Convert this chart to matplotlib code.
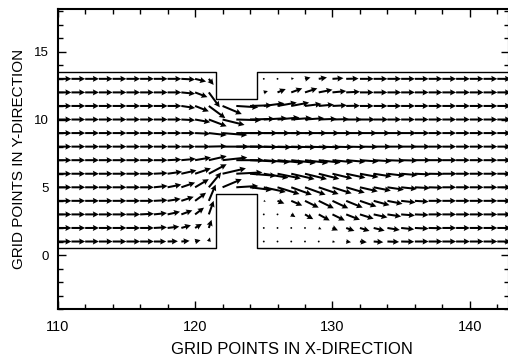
import numpy as np
import matplotlib
matplotlib.use('Agg')
import matplotlib.pyplot as plt
from matplotlib.ticker import MultipleLocator

plt.rcParams['font.family'] = ['Liberation Sans', 'DejaVu Sans']

# grid points
x_grid = list(range(110, 143))   # 33 columns
y_grid = list(range(1, 14))      # 13 rows
nan = np.nan

# velocity, one list per row (y = 1 .. 13), columns x = 110 .. 142
u1 = [1,1,1,1,1,1,1, .9,.75,.6,.4,.08, nan,nan,nan, .02,.02,.03,.05,.1,.2,.35,.5,.7,.85,.95, 1,1,1,1,1,1,1]
v1 = [0,0,0,0,0,0,0, 0,.02,.05,.1,.3, nan,nan,nan, 0,0,0,0,-.02,-.04,-.05,-.05,-.05,-.03,-.02, 0,0,0,0,0,0,0]
u2 = [1,1,1,1,1,1,1, .95,.85,.7,.5,.2, nan,nan,nan, .02,.03,.05,.1,.2,.4,.6,.7,.8,.9,.95, 1,1,1,1,1,1,1]
v2 = [0,0,0,0,0,0,0, .05,.1,.2,.3,.6, nan,nan,nan, 0,0,-.02,-.05,-.1,-.18,-.22,-.22,-.2,-.15,-.1, -.05,-.02,0,0,0,0,0]
u3 = [1,1,1,1,1,1,1, .95,.9,.8,.65,.35, nan,nan,nan, .05,.1,.3,.6,.8,.9,1,1,1,1,1, 1,1,1,1,1,1,1]
v3 = [0,0,0,0,0,0,.05, .1,.2,.3,.5,1.0, nan,nan,nan, 0,-.05,-.2,-.35,-.45,-.45,-.4,-.32,-.22,-.15,-.08, -.04,0,0,0,0,0,0]
u4 = [1,1,1,1,1,1,1, 1,.95,.9,.8,.5, nan,nan,nan, .15,.5,.8,1.0,1.1,1.15,1.2,1.2,1.15,1.1,1.05, 1,1,1,1,1,1,1]
v4 = [0,0,0,0,0,0,0, .05,.15,.3,.6,1.2, nan,nan,nan, -.05,-.2,-.35,-.5,-.55,-.55,-.5,-.42,-.32,-.22,-.12, -.06,0,0,0,0,0,0]
u5 = [1,1,1,1,1,1,1, 1,1,1,1,.9, 1.4,1.6,1.6, 1.6,1.6,1.5,1.5,1.45,1.4,1.35,1.3,1.25,1.2,1.15, 1.1,1.05,1,1,1,1,1]
v5 = [0,0,0,0,0,0,0, .1,.2,.35,.6,1.1, .6,.1,-.2, -.35,-.5,-.55,-.55,-.5,-.45,-.4,-.3,-.25,-.18,-.12, -.06,-.03,0,0,0,0,0]
u6 = [1,1,1,1,1,1,1, 1,1.05,1.1,1.15,1.3, 1.7,1.9,1.9, 1.8,1.7,1.7,1.6,1.5,1.45,1.4,1.35,1.3,1.25,1.2, 1.15,1.1,1.05,1,1,1,1]
v6 = [0,0,0,0,0,0,0, .05,.15,.25,.4,.7, .4,.1,-.15, -.3,-.35,-.4,-.4,-.38,-.35,-.3,-.25,-.2,-.15,-.1, -.05,-.02,0,0,0,0,0]
u7 = [1,1,1,1,1,1,1, 1,1,1.05,1.15,1.3, 1.8,2.0,2.0, 1.9,1.9,1.8,1.7,1.6,1.5,1.4,1.35,1.3,1.25,1.2, 1.15,1.1,1.05,1,1,1,1]
v7 = [0,0,0,0,0,0,0, 0,.05,.1,.2,.3, .2,0,-.1, -.15,-.2,-.2,-.2,-.18,-.15,-.12,-.1,-.08,-.05,-.03, 0,0,0,0,0,0,0]
u8 = [1,1,1,1,1,1,1, 1,1,1,1.1,1.3, 1.9,2.0,2.0, 2.0,1.9,1.8,1.7,1.6,1.5,1.4,1.3,1.25,1.2,1.15, 1.1,1.05,1,1,1,1,1]
v8 = [0,0,0,0,0,0,0, 0,0,0,0,.03, 0,0,-.03, -.05,-.05,-.05,-.05,-.05,-.04,-.03,-.02,0,0,0, 0,0,0,0,0,0,0]
u9 = [1,1,1,1,1,1,1, 1,1,1,1.1,1.3, 1.8,2.0,2.0, 1.9,1.8,1.7,1.6,1.5,1.4,1.3,1.25,1.2,1.15,1.1, 1.05,1,1,1,1,1,1]
v9 = [0,0,0,0,0,0,0, 0,0,0,-.05,-.15, -.15,0,0, 0,0,0,0,0,0,0,0,0,0,0, 0,0,0,0,0,0,0]
u10 = [1,1,1,1,1,1,1, 1,1,1,1.1,1.3, 1.6,1.8,1.8, 1.7,1.6,1.5,1.4,1.3,1.2,1.15,1.1,1.05,1,1, 1,1,1,1,1,1,1]
v10 = [0,0,0,0,0,0,0, 0,0,-.05,-.2,-.5, -.4,-.05,.05, .1,.15,.12,.1,.05,.03,0,0,0,0,0, 0,0,0,0,0,0,0]
u11 = [1,1,1,1,1,1,1, 1,1,1,1.0,1.2, 1.4,1.6,1.6, 1.5,1.4,1.3,1.2,1.1,1.05,1,1,1,1,1, 1,1,1,1,1,1,1]
v11 = [0,0,0,0,0,0,0, 0,0,-.15,-.4,-.9, -.6,-.1,.05, .2,.25,.25,.15,.1,.05,.02,0,0,0,0, 0,0,0,0,0,0,0]
u12 = [1,1,1,1,1,1,1, 1,1,1,.9,.8, nan,nan,nan, .3,.6,.8,.9,1.0,1.0,1.0,1,1,1,1, 1,1,1,1,1,1,1]
v12 = [0,0,0,0,0,0,0, 0,0,-.1,-.35,-1.1, nan,nan,nan, .1,.25,.3,.3,.2,.1,.05,0,0,0,0, 0,0,0,0,0,0,0]
u13 = [1,1,1,1,1,1,1, 1,1,1,.8,.35, nan,nan,nan, .05,.1,.2,.4,.6,.8,.9,1,1,1,1, 1,1,1,1,1,1,1]
v13 = [0,0,0,0,0,0,0, 0,0,-.05,-.2,-.45, nan,nan,nan, 0,.02,.05,.1,.1,.05,.02,0,0,0,0, 0,0,0,0,0,0,0]

# channel walls (constriction between x=121.5 and 124.5)
wall_x = [110, 121.5, 121.5, 124.5, 124.5, 143]
wall_top = [13.5, 13.5, 11.5, 11.5, 13.5, 13.5]
wall_bot = [0.5, 0.5, 4.5, 4.5, 0.5, 0.5]

U = np.ma.masked_invalid(np.array([u1, u2, u3, u4, u5, u6, u7, u8, u9, u10, u11, u12, u13]))
V = np.ma.masked_invalid(np.array([v1, v2, v3, v4, v5, v6, v7, v8, v9, v10, v11, v12, v13]))
X, Y = np.meshgrid(x_grid, y_grid)

fig = plt.figure(figsize=(5.08, 3.61), dpi=100)
ax = fig.add_axes([57.7/508, 1 - 309.3/361, (509 - 57.7)/508, 300/361])

ax.quiver(X, Y, U, V, angles='xy', scale_units='xy', scale=1, pivot='tail',
          width=0.0045, headwidth=3, headlength=3, headaxislength=2.7,
          color='black')
ax.plot(wall_x, wall_top, color='black', lw=1.0)
ax.plot(wall_x, wall_bot, color='black', lw=1.0)

ax.set_xlim(110, 142.85)
ax.set_ylim(-4, 18.13)
ax.set_xticks([110, 120, 130, 140])
ax.set_yticks([0, 5, 10, 15])
ax.xaxis.set_minor_locator(MultipleLocator(2))
ax.yaxis.set_minor_locator(MultipleLocator(1))
ax.tick_params(which='both', direction='in', top=True, right=True, width=1.0)
ax.tick_params(which='major', length=6)
ax.tick_params(which='minor', length=3.5)
ax.tick_params(axis='x', pad=7.5, labelsize=10.5)
ax.tick_params(axis='y', pad=6.5, labelsize=9.5)
for s in ax.spines.values():
    s.set_linewidth(1.5)

ax.set_xlabel('GRID POINTS IN X-DIRECTION', fontsize=12)
ax.set_ylabel('GRID POINTS IN Y-DIRECTION', fontsize=11)
ax.xaxis.set_label_coords(0.518, -0.108)
ax.yaxis.set_label_coords(-0.07, 0.5)

fig.savefig('out.png', dpi=100)
